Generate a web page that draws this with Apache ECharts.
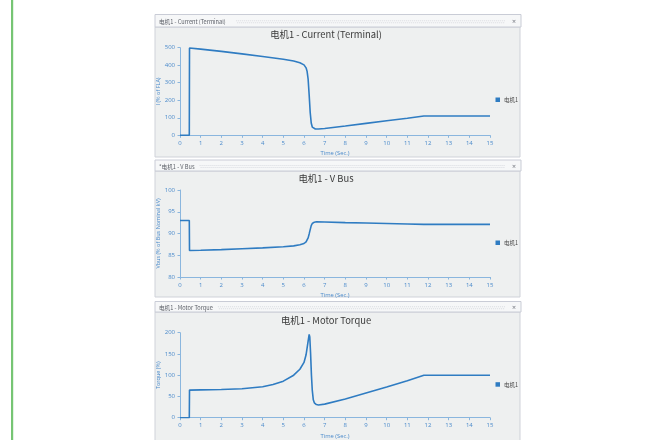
<!DOCTYPE html>
<html>
<head>
<meta charset="utf-8">
<script src="https://cdn.jsdelivr.net/npm/echarts@6/dist/echarts.min.js"></script>
<style>
  html, body { margin: 0; padding: 0; background: #ffffff; }
  #chart { width: 652px; height: 440px; }
</style>
</head>
<body>
<div id="chart"></div>
<script>
// Motor start simulation: terminal current, bus voltage and motor torque
const seriesName = '电机1';
const panelHeaders = ['电机1 - Current (Terminal)', '*电机1 - V Bus', '电机1 - Motor Torque'];
const chartTitles = ['电机1 - Current (Terminal)', '电机1 - V Bus', '电机1 - Motor Torque'];
const yAxisNames = ['I (% of FLA)', 'Vbus (% of Bus Nominal kV)', 'Torque (%)'];
const xAxisName = 'Time (Sec.)';

// Axis ranges [min, max, interval]
const timeRange = [0, 15, 1];
const currentRange = [0, 500, 100];
const voltageRange = [80, 100, 5];
const torqueRange = [0, 200, 50];

// Terminal current (% of FLA)
const currentTime = [0, 0.45, 0.46, 1, 2, 3, 4, 5, 5.5, 5.8, 6.0, 6.1, 6.15, 6.2, 6.25, 6.3, 6.35, 6.4, 6.45, 6.55, 6.7, 7, 8, 9, 10, 11, 11.8, 12, 13, 14, 15];
const currentValues = [0, 0, 498, 492, 479, 465, 450, 434, 424, 414, 402, 385, 365, 320, 230, 130, 70, 47, 40, 36, 36, 39, 53, 68, 83, 97, 110, 110, 110, 110, 110];

// Bus voltage (% of nominal kV)
const voltageTime = [0, 0.45, 0.46, 1, 2, 3, 4, 5, 5.5, 5.8, 6.0, 6.1, 6.2, 6.25, 6.3, 6.35, 6.4, 6.5, 6.6, 7, 8, 9, 10, 11, 11.8, 12, 13, 14, 15];
const voltageValues = [93, 93, 86.1, 86.15, 86.3, 86.5, 86.7, 86.95, 87.15, 87.4, 87.7, 88.1, 89.0, 89.9, 90.9, 91.8, 92.3, 92.6, 92.7, 92.65, 92.5, 92.4, 92.3, 92.2, 92.1, 92.1, 92.1, 92.1, 92.1];

// Motor torque (%)
const torqueTime = [0, 0.45, 0.46, 1, 2, 3, 4, 4.5, 5, 5.5, 5.8, 6.0, 6.1, 6.2, 6.25, 6.28, 6.32, 6.36, 6.4, 6.45, 6.5, 6.6, 6.7, 7, 8, 9, 10, 11, 11.8, 12, 13, 14, 15];
const torqueValues = [0, 0, 65, 65.5, 66.5, 68, 73, 78, 86, 100, 114, 130, 148, 180, 196, 190, 150, 100, 65, 42, 35, 31, 30, 32, 44, 58, 72, 87, 100, 100, 100, 100, 100];

const pairs = (xs, ys) => xs.map((x, i) => [x, ys[i]]);
const seriesData = [
  pairs(currentTime, currentValues),
  pairs(voltageTime, voltageValues),
  pairs(torqueTime, torqueValues)
];
const yRanges = [currentRange, voltageRange, torqueRange];

// Panel layout (pixels)
const panels = [
  { headTop: 14.5, headBottom: 27, bodyBottom: 157, gridTop: 47.7, gridBottom: 135.3, titleY: 35, legendY: 99.3 },
  { headTop: 160, headBottom: 171, bodyBottom: 297, gridTop: 190, gridBottom: 277, titleY: 179, legendY: 242.3 },
  { headTop: 301.5, headBottom: 312, bodyBottom: 445, gridTop: 332.7, gridBottom: 418.7, titleY: 320.5, legendY: 384 }
];
const panelLeft = 155, panelRight = 520;
const plotLeft = 180, plotRight = 490;

const lineColor = '#2f7cc2';
const axisColor = '#8ab6de';
const labelColor = '#4a8acb';
const uiFont = '"Open Sans", "Noto Sans CJK SC", sans-serif';
const cjkFont = '"Noto Sans CJK SC", "Noto Sans", sans-serif';

const graphics = [
  // green guide bar on the page edge
  { type: 'rect', shape: { x: 11, y: 0, width: 2.2, height: 440 }, style: { fill: '#76c574' }, z: -10 }
];
panels.forEach((p, i) => {
  const mid = (p.headTop + p.headBottom) / 2;
  const gripStart = 159 + panelHeaders[i].length * 3.05 + 4;
  graphics.push(
    { type: 'rect', shape: { x: panelLeft, y: p.headBottom, width: panelRight - panelLeft, height: p.bodyBottom - p.headBottom },
      style: { fill: '#eef0f0', stroke: '#cfd2d9', lineWidth: 1 }, z: -10 },
    { type: 'rect', shape: { x: panelLeft, y: p.headTop, width: panelRight - panelLeft + 1, height: p.headBottom - p.headTop },
      style: { fill: '#f6f7f8', stroke: '#c9ccd6', lineWidth: 1 }, z: -9 },
    { type: 'text', x: 159, y: mid + 1.6,
      style: { text: panelHeaders[i], font: '5.6px ' + cjkFont, fill: '#5a5e66', verticalAlign: 'middle' }, z: -8 },
    { type: 'line', shape: { x1: gripStart, y1: mid, x2: 505, y2: mid },
      style: { stroke: '#d9dbe0', lineWidth: 1, lineDash: [1, 1] }, z: -8 },
    { type: 'line', shape: { x1: gripStart + 1, y1: mid + 2, x2: 505, y2: mid + 2 },
      style: { stroke: '#d9dbe0', lineWidth: 1, lineDash: [1, 1] }, z: -8 },
    { type: 'text', x: 514, y: mid + 1,
      style: { text: '×', font: '7px ' + uiFont, fill: '#70747c', align: 'center', verticalAlign: 'middle' }, z: -8 }
  );
});

const option = {
  animation: false,
  backgroundColor: '#ffffff',
  graphic: graphics,
  title: panels.map((p, i) => ({
    text: chartTitles[i],
    left: 326,
    top: p.titleY - 5,
    padding: 0,
    textAlign: 'center',
    textStyle: { fontFamily: cjkFont, fontSize: 9.4, fontWeight: 'normal', color: '#3a3a3a' }
  })),
  legend: panels.map((p, i) => ({
    data: [seriesName],
    left: 495.5,
    top: p.legendY - 2.3,
    padding: 0,
    icon: 'rect',
    itemWidth: 4.5,
    itemHeight: 4.5,
    itemGap: 2,
    textStyle: { fontFamily: cjkFont, fontSize: 5.5, color: '#444', padding: [0, 0, 0, -1] }
  })),
  grid: panels.map(p => ({
    left: plotLeft,
    right: 652 - plotRight,
    top: p.gridTop,
    height: p.gridBottom - p.gridTop,
    containLabel: false
  })),
  xAxis: panels.map((p, i) => ({
    type: 'value',
    gridIndex: i,
    min: timeRange[0], max: timeRange[1], interval: timeRange[2],
    name: xAxisName,
    nameLocation: 'middle',
    nameGap: 15.5,
    nameTextStyle: { fontFamily: uiFont, fontSize: 5.8, color: labelColor },
    axisLine: { onZero: false, lineStyle: { color: axisColor, width: 1 } },
    axisTick: { show: true, length: 2.5, lineStyle: { color: axisColor } },
    axisLabel: { fontFamily: uiFont, fontSize: 6, color: labelColor, margin: 5 },
    splitLine: { show: false }
  })),
  yAxis: panels.map((p, i) => ({
    type: 'value',
    gridIndex: i,
    min: yRanges[i][0], max: yRanges[i][1], interval: yRanges[i][2],
    name: yAxisNames[i],
    nameLocation: 'middle',
    nameGap: 18,
    nameTextStyle: { fontFamily: uiFont, fontSize: 5.5, color: labelColor },
    axisLine: { show: true, lineStyle: { color: axisColor, width: 1 } },
    axisTick: { show: true, length: 2.5, lineStyle: { color: axisColor } },
    axisLabel: { fontFamily: uiFont, fontSize: 6, color: labelColor, margin: 5 },
    splitLine: { show: false }
  })),
  series: seriesData.map((d, i) => ({
    name: seriesName,
    type: 'line',
    xAxisIndex: i,
    yAxisIndex: i,
    data: d,
    showSymbol: false,
    symbol: 'none',
    lineStyle: { color: lineColor, width: 1.6 },
    itemStyle: { color: lineColor }
  }))
};

const chart = echarts.init(document.getElementById('chart'), null, { renderer: 'canvas' });
chart.setOption(option);
</script>
</body>
</html>
